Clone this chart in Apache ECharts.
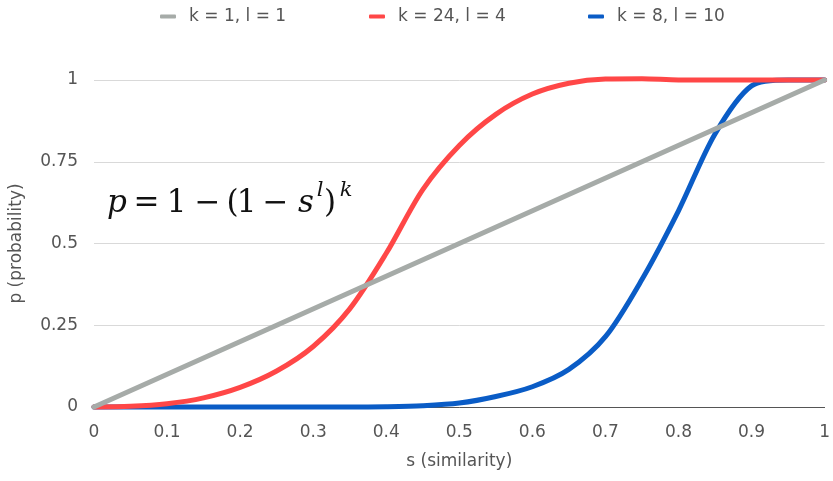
<!DOCTYPE html>
<html>
<head>
<meta charset="utf-8">
<script src="https://cdn.jsdelivr.net/npm/echarts@6/dist/echarts.min.js"></script>
<style>
  html, body { margin: 0; padding: 0; background: #fff; }
  #chart { width: 833px; height: 481px; }
</style>
</head>
<body>
<div id="chart"></div>
<script>
// Similarity values s, sampled every 0.05
const similarity = [0, 0.05, 0.1, 0.15, 0.2, 0.25, 0.3, 0.35, 0.4, 0.45, 0.5,
                    0.55, 0.6, 0.65, 0.7, 0.75, 0.8, 0.85, 0.9, 0.95, 1];

// k = 1, l = 1 : straight line from (0,0) to (1,1)
const linearS = [0, 1];
const linearP = [0, 1];

// k = 24, l = 4
const probK24L4 = [0, 0.002, 0.01, 0.028, 0.06, 0.11, 0.185, 0.30, 0.47, 0.665, 0.80,
                   0.895, 0.957, 0.99, 1.003, 1.004, 1.0, 1.0, 1.0, 1.0, 1.0];

// k = 8, l = 10
const probK8L10 = [0, 0, 0, 0, 0, 0, 0, 0, 0.001, 0.004, 0.012,
                   0.032, 0.062, 0.115, 0.215, 0.39, 0.60, 0.835, 0.982, 1.0, 1.0];

const seriesNames = ['k = 1, l = 1', 'k = 24, l = 4', 'k = 8, l = 10'];
const seriesColors = ['#a6aba8', '#ff4747', '#0a5cc6'];

const pairs = (xs, ys) => xs.map((x, i) => [x, ys[i]]);

const textColor = '#555';
const uiFont = 'DejaVu Sans';
const mathFont = 'DejaVu Serif';

// Pieces of the formula p = 1 − (1 − s^l)^k, placed glyph group by glyph group
const formulaPieces = [
  { t: 'p', x: 117,   italic: true,  sup: false },
  { t: '=', x: 146.5, italic: false, sup: false },
  { t: '1', x: 176.5, italic: false, sup: false },
  { t: '−', x: 207.5, italic: false, sup: false },
  { t: '(', x: 232.5, italic: false, sup: false },
  { t: '1', x: 246.5, italic: false, sup: false },
  { t: '−', x: 275.5, italic: false, sup: false },
  { t: 's', x: 306,   italic: true,  sup: false },
  { t: 'l', x: 320,   italic: true,  sup: true },
  { t: ')', x: 330,   italic: false, sup: false },
  { t: 'k', x: 346,   italic: true,  sup: true }
];

const chart = echarts.init(document.getElementById('chart'), null, { renderer: 'canvas' });

const legendLefts = [155, 364, 583];

const curveStyle = (color) => ({
  smooth: 0.3,
  showSymbol: false,
  clip: false,
  lineStyle: { color: color, width: 5, cap: 'round', join: 'round' },
  itemStyle: { color: color }
});

chart.setOption({
  animation: false,
  backgroundColor: '#fff',
  textStyle: { fontFamily: uiFont },
  legend: seriesNames.map((name, i) => ({
    data: [name],
    left: legendLefts[i],
    top: 3,
    icon: 'roundRect',
    itemWidth: 16,
    itemHeight: 4,
    textStyle: { color: textColor, fontSize: 17, fontFamily: uiFont, padding: [0, 0, 0, 8] }
  })),
  grid: { left: 94, right: 5, top: 80, bottom: 74, containLabel: false },
  xAxis: {
    type: 'value',
    min: 0, max: 1, interval: 0.1,
    name: 's (similarity)',
    nameLocation: 'middle',
    nameGap: 46,
    nameTextStyle: { color: textColor, fontSize: 17, fontFamily: uiFont },
    axisLine: { show: true, lineStyle: { color: '#555', width: 1 } },
    axisTick: { show: false },
    axisLabel: { color: textColor, fontSize: 17, margin: 17, fontFamily: uiFont },
    splitLine: { show: false }
  },
  yAxis: {
    type: 'value',
    min: 0, max: 1, interval: 0.25,
    name: 'p (probability)',
    nameLocation: 'middle',
    nameGap: 69,
    nameTextStyle: { color: textColor, fontSize: 17, fontFamily: uiFont },
    axisLine: { show: false },
    axisTick: { show: false },
    axisLabel: { color: textColor, fontSize: 17, margin: 16, fontFamily: uiFont },
    splitLine: { show: true, lineStyle: { color: '#d9d9d9', width: 1 } }
  },
  series: [
    Object.assign({ name: seriesNames[2], type: 'line', data: pairs(similarity, probK8L10), z: 2 },
                  curveStyle(seriesColors[2])),
    Object.assign({ name: seriesNames[1], type: 'line', data: pairs(similarity, probK24L4), z: 3 },
                  curveStyle(seriesColors[1])),
    {
      name: seriesNames[0], type: 'line', data: pairs(linearS, linearP),
      showSymbol: false, clip: false, z: 4,
      lineStyle: { color: seriesColors[0], width: 5, cap: 'round' },
      itemStyle: { color: seriesColors[0] }
    }
  ],
  graphic: formulaPieces.map(piece => ({
    type: 'text',
    x: piece.x,
    y: piece.sup ? 191 : 204,
    z: 10,
    style: {
      text: piece.t,
      fontFamily: mathFont,
      fontStyle: piece.italic ? 'italic' : 'normal',
      fontSize: piece.sup ? 21 : 31,
      align: 'center',
      verticalAlign: 'middle',
      fill: '#111'
    }
  }))
});
</script>
</body>
</html>
